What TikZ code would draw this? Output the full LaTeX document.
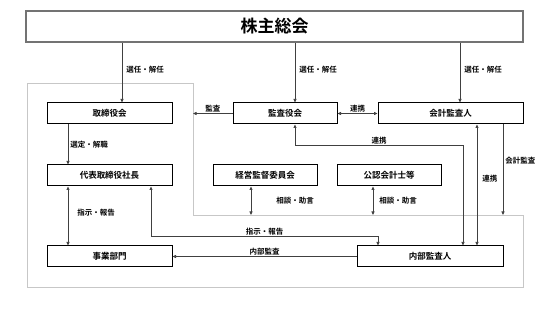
\documentclass[tikz,border=0pt]{standalone}
\usepackage{fontspec}
\setmainfont{Noto Sans CJK JP}[BoldFont={Noto Sans CJK JP Bold}]
\usetikzlibrary{arrows.meta}
\colorlet{linegray}{black!75}
\colorlet{framegray}{black!22}
\colorlet{topgray}{black!55}

\begin{document}
\begin{tikzpicture}[x=1pt, y=-1pt, >={Triangle[length=3.5pt, width=3pt]},
    box/.style={draw=black, line width=1pt, fill=white, minimum height=21pt, inner sep=0pt,
      font=\bfseries\fontsize{8.5}{10}\selectfont},
    lab/.style={font=\bfseries\fontsize{7.5}{9}\selectfont, inner sep=1pt},
    conn/.style={draw=linegray, line width=0.7pt}]
    \useasboundingbox (0,0) rectangle (550,310);

    % frame round the executive side
    \coordinate (fa) at (27,83);
    \coordinate (fb) at (193,83);
    \coordinate (fc) at (193,215);
    \coordinate (fd) at (523,215);
    \coordinate (fe) at (523,287);
    \coordinate (ff) at (27,287);
    \draw[framegray, line width=0.8pt] (fa) -- (fb) -- (fc) -- (fd) -- (fe) -- (ff) -- cycle;

    \node[box, minimum width=497pt, minimum height=31pt, draw=topgray, line width=1.6pt,
      font=\bfseries\fontsize{17}{20}\selectfont] (soukai) at (274.5,26.5) {株主総会};

    \node[box, minimum width=125pt] (torishimari) at (109.5,113.5) {取締役会};
    \node[box, minimum width=104pt] (kansayaku) at (285,113.5) {監査役会};
    \node[box, minimum width=145pt] (kaikei) at (450.5,113.5) {会計監査人};
    \node[box, minimum width=125pt] (daihyo) at (109.5,175.5) {代表取締役社長};
    \node[box, minimum width=104pt] (keiei) at (265,175.5) {経営監督委員会};
    \node[box, minimum width=104pt] (kounin) at (389,175.5) {公認会計士等};
    \node[box, minimum width=125pt] (jigyo) at (109.5,256.5) {事業部門};
    \node[box, minimum width=146pt] (naibu) at (430,256.5) {内部監査人};

    % election by the shareholders
    \draw[conn, ->] ([xshift=12.5pt]torishimari.north |- soukai.south) -- ([xshift=12.5pt]torishimari.north)
      node[lab, pos=0.45, right, xshift=3pt] {選任・解任};
    \draw[conn, ->] ([xshift=10pt]kansayaku.north |- soukai.south) -- ([xshift=10pt]kansayaku.north)
      node[lab, pos=0.45, right, xshift=3pt] {選任・解任};
    \draw[conn, ->] ([xshift=9.5pt]kaikei.north |- soukai.south) -- ([xshift=9.5pt]kaikei.north)
      node[lab, pos=0.45, right, xshift=3pt] {選任・解任};

    % first row
    \draw[conn, ->] (kansayaku.west) -- (kansayaku.west -| fb) node[lab, midway, above] {監査};
    \draw[conn, <->] (kansayaku.east) -- (kaikei.west) node[lab, midway, above] {連携};

    % left column
    \draw[conn, ->] ([xshift=-41.5pt]torishimari.south) -- ([xshift=-41.5pt]daihyo.north)
      node[lab, midway, right, xshift=1pt] {選定・解職};
    \draw[conn, <->] ([xshift=-41.5pt]daihyo.south) -- ([xshift=-41.5pt]jigyo.north)
      node[lab, pos=0.45, right, xshift=8pt] {指示・報告};
    \draw[conn, <->] ([xshift=41.5pt]daihyo.south) -- ++(0,50) -| ([xshift=-52pt]naibu.north)
      node[lab, pos=0.25, above] {指示・報告};
    \draw[conn, ->] (naibu.west) -- (jigyo.east) node[lab, midway, above] {内部監査};

    % auditors
    \draw[conn, <->] ([xshift=10pt]kansayaku.south) -- ++(0,21) -| ([xshift=33pt]naibu.north)
      node[lab, pos=0.25, above] {連携};
    \draw[conn, <->] ([xshift=26.5pt]kaikei.south) -- ([xshift=26.5pt]kaikei.south |- naibu.north)
      node[lab, pos=0.45, right, xshift=4pt] {連携};
    \draw[conn, ->] ([xshift=52.5pt]kaikei.south) -- ([xshift=52.5pt]kaikei.south |- fd)
      node[lab, pos=0.4, right, xshift=1pt] {会計監査};

    % advice
    \draw[conn, <->] ([xshift=-14pt]keiei.south) -- ([xshift=-14pt]keiei.south |- fc)
      node[lab, midway, right, xshift=24pt] {相談・助言};
    \draw[conn, <->] ([xshift=-16pt]kounin.south) -- ([xshift=-16pt]kounin.south |- fc)
      node[lab, midway, right, xshift=5pt] {相談・助言};
  \end{tikzpicture}
\end{document}
